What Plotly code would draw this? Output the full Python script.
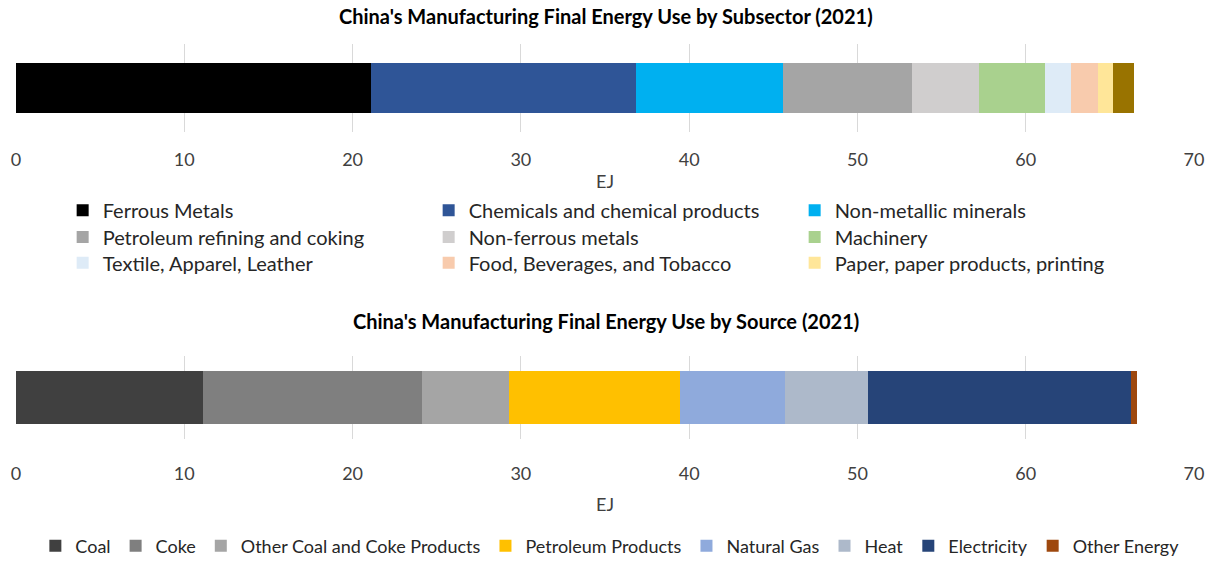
import plotly.graph_objects as go

# Subsector breakdown (EJ)
subsectors = [
    "Ferrous Metals",
    "Chemicals and chemical products",
    "Non-metallic minerals",
    "Petroleum refining and coking",
    "Non-ferrous metals",
    "Machinery",
    "Textile, Apparel, Leather",
    "Food, Beverages, and Tobacco",
    "Paper, paper products, printing",
    "Other",
]
subsector_ej = [21.09, 15.74, 8.77, 7.66, 3.96, 3.90, 1.60, 1.56, 0.91, 1.27]
subsector_colors = [
    "#000000", "#2F5597", "#00B0F0", "#A5A5A5", "#D0CECE",
    "#A9D18E", "#DEEBF7", "#F8CBAD", "#FFE699", "#997300",
]

# Source breakdown (EJ)
sources = [
    "Coal", "Coke", "Other Coal and Coke Products", "Petroleum Products",
    "Natural Gas", "Heat", "Electricity", "Other Energy",
]
source_ej = [11.09, 13.05, 5.17, 10.14, 6.24, 4.91, 15.65, 0.34]
source_colors = [
    "#404040", "#7F7F7F", "#A5A5A5", "#FFC000",
    "#8FAADC", "#ADB9CA", "#264478", "#9E480E",
]

FONT = "Lato"
W, H = 1212, 565

fig = go.Figure()

# top chart: one horizontal legend per row, three fixed-width columns
row_legends = ["legend", "legend2", "legend3"]
for i, (name, val, col) in enumerate(zip(subsectors, subsector_ej, subsector_colors)):
    fig.add_trace(go.Bar(
        x=[val], y=[0], name=name, orientation="h", width=0.57,
        marker=dict(color=col, line=dict(width=0)),
        xaxis="x", yaxis="y",
        legend=row_legends[min(i // 3, 2)],
        showlegend=name != "Other",
        hovertemplate="%{fullData.name}: %{x:.2f} EJ<extra></extra>",
    ))

for name, val, col in zip(sources, source_ej, source_colors):
    fig.add_trace(go.Bar(
        x=[val], y=[0], name=name, orientation="h", width=0.63,
        marker=dict(color=col, line=dict(width=0)),
        xaxis="x2", yaxis="y2",
        legend="legend4",
        hovertemplate="%{fullData.name}: %{x:.2f} EJ<extra></extra>",
    ))


def py(px):
    return (H - px) / H


def pxx(px):
    return px / W


xcommon = dict(
    range=[0, 70], dtick=10, showgrid=True, gridcolor="#D9D9D9", gridwidth=1,
    zeroline=False, showline=False, ticks="", automargin=False,
    tickfont=dict(family=FONT, size=18, color="#404040"),
    fixedrange=True,
)
ycommon = dict(range=[-0.5, 0.5], visible=False, fixedrange=True)

legfont = dict(family=FONT, size=20, color="#262626")


def row_legend(ycenter):
    return dict(font=legfont, bgcolor="rgba(0,0,0,0)", orientation="h",
                traceorder="normal", entrywidth=321, entrywidthmode="pixels",
                x=pxx(48), xanchor="left", y=py(ycenter), yanchor="middle",
                itemclick=False, itemdoubleclick=False)


fig.update_layout(
    width=W, height=H,
    margin=dict(l=16, r=W - 1194, t=0, b=0),
    paper_bgcolor="white", plot_bgcolor="white",
    barmode="stack",
    font=dict(family=FONT),
    xaxis=dict(xcommon, domain=[0, 1], anchor="y", ticklabelstandoff=15,
               title=dict(text="EJ", standoff=6,
                          font=dict(family=FONT, size=18, color="#404040"))),
    yaxis=dict(ycommon, domain=[py(134), py(45)], anchor="x"),
    xaxis2=dict(xcommon, domain=[0, 1], anchor="y2", ticklabelstandoff=22,
                title=dict(text="EJ", standoff=14,
                           font=dict(family=FONT, size=18, color="#404040"))),
    yaxis2=dict(ycommon, domain=[py(445), py(360)], anchor="x2"),
    legend=row_legend(213),
    legend2=row_legend(240),
    legend3=row_legend(266),
    legend4=dict(font=dict(family=FONT, size=18, color="#262626"),
                 bgcolor="rgba(0,0,0,0)", orientation="h", traceorder="normal",
                 x=pxx(611), xanchor="center", y=py(553), yanchor="middle",
                 itemclick=False, itemdoubleclick=False),
    annotations=[
        dict(text="<b>China's Manufacturing Final Energy Use by Subsector (2021)</b>",
             x=pxx(607), y=py(16), xref="paper", yref="paper", showarrow=False,
             xanchor="center", yanchor="middle",
             font=dict(family=FONT, size=20, color="#000000")),
        dict(text="<b>China's Manufacturing Final Energy Use by Source (2021)</b>",
             x=pxx(607), y=py(325), xref="paper", yref="paper", showarrow=False,
             xanchor="center", yanchor="middle",
             font=dict(family=FONT, size=20, color="#000000")),
    ],
)

# drop the default page margin so the figure sits at the window's corner
fig.write_html("out.html", config={"displayModeBar": False},
               post_script="document.body.style.margin='0';")
